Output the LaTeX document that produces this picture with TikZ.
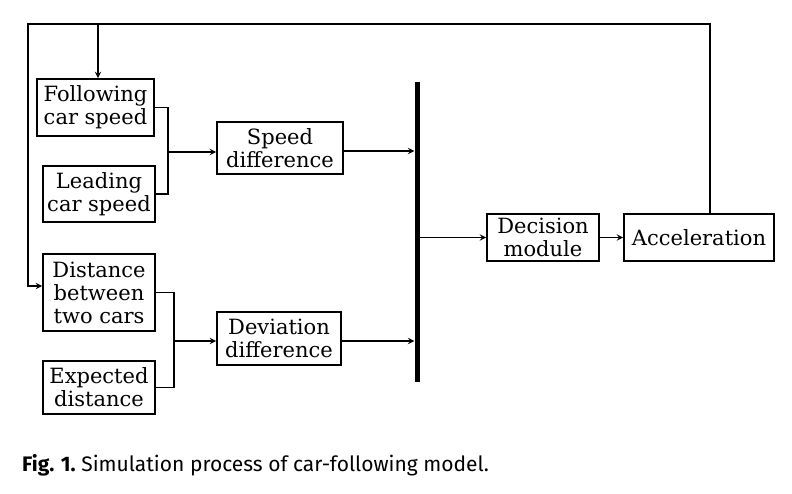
\documentclass[tikz,border=0pt]{standalone}
\usepackage{fontspec}
\setmainfont{DejaVu Serif}
\newfontfamily\capfont{Fira Sans}
\usetikzlibrary{arrows, positioning, calc}

\begin{document}
\begin{tikzpicture}[x=1pt, y=-1pt,
    block/.style={rectangle, draw, line width=1.8pt, align=center, inner sep=0pt, font=\fontsize{21}{23}\selectfont},
    bar/.style={rectangle, fill=black, inner sep=0pt, minimum width=5pt},
    line/.style={line width=1.8pt},
    arrow/.style={->, >=stealth, line width=1.8pt}]

    \useasboundingbox (0,0) rectangle (792,493);

    % Input blocks
    \node [block, minimum width=117pt, minimum height=57pt] (follow) at (95.5,107.5) {Following\\car speed};
    \node [block, minimum width=112pt, minimum height=56pt] (lead) at (99,194) {Leading\\car speed};
    \node [block, minimum width=112pt, minimum height=77pt] (dist) at (99,292.5) {Distance\\between\\two cars};
    \node [block, minimum width=112pt, minimum height=53pt] (expect) at (99,387.5) {Expected\\distance};

    % Differences
    \node [block, minimum width=126pt, minimum height=52pt] (speed) at (280,148) {Speed\\difference};
    \node [block, minimum width=124pt, minimum height=53pt] (dev) at (279,338.5) {Deviation\\difference};

    % Bus bar
    \node [bar, minimum height=300pt] (bus) at (417,232) {};

    % Decision and output
    \node [block, minimum width=112pt, minimum height=47pt] (decide) at (543,237.5) {Decision\\module};
    \node [block, minimum width=150pt, minimum height=47pt] (accel) at (699,237.5) {Acceleration};

    % Junctions
    \coordinate (j1) at (168,152);
    \coordinate (j2) at (174,341);
    \coordinate (fbL) at (28,24);
    \coordinate (fbR) at (710,24);

    % Brackets
    \draw [line] (follow.east) -| (j1) |- (lead.east);
    \draw [line] (dist.east) -| (j2) |- (expect.east);
    \draw [arrow] (j1) -- (j1 -| speed.west);
    \draw [arrow] (j2) -- (j2 -| dev.west);

    % Into the bar
    \draw [arrow] (speed.east |- 0,151) -- (bus.west |- 0,151);
    \draw [arrow] (dev.east |- j2) -- (bus.west |- j2);
    \draw [arrow] (bus.east |- decide.west) -- (decide.west);
    \draw [arrow] (decide) -- (accel);

    % Feedback
    \draw [line] (accel.north -| fbR) -- (fbR) -- (fbL) -- (fbL |- 0,287);
    \draw [arrow] (fbL |- 0,286) -- (dist.west |- 0,286);
    \draw [arrow] (follow.north -| 98,0) ++(0,-55) -- (follow.north -| 98,0);

    % Caption
    \node [anchor=base west, inner sep=0pt, font=\capfont\fontsize{21}{24}\selectfont] (caption) at (22,471)
        {\textbf{Fig. 1.}\ Simulation process of car-following model.};

\end{tikzpicture}
\end{document}
